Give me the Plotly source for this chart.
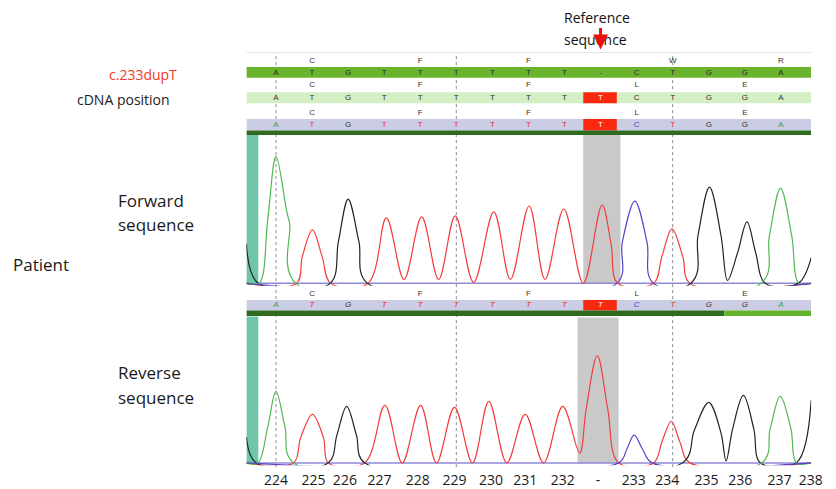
import plotly.graph_objects as go

W, H = 836, 489

# ---------------- data ----------------
ref_bases = ["A", "T", "G", "T", "T", "T", "T", "T", "T", "-", "C", "T", "G", "G", "A"]
ref_aa = ["", "C", "", "", "F", "", "", "F", "", "", "", "W", "", "", "R"]
pat_bases = ["A", "T", "G", "T", "T", "T", "T", "T", "T", "T", "C", "T", "G", "G", "A"]
pat_aa = ["", "C", "", "", "F", "", "", "F", "", "", "L", "", "", "E", ""]
mut_index = 9
dashed_at = [0, 5, 11]

cdna_labels = ["224", "225", "226", "227", "228", "229", "230", "231", "232", "-",
               "233", "234", "235", "236", "237", "238"]
cdna_tick_pos = [0, 1.04, 1.91, 2.87, 3.93, 4.95, 5.96, 6.91, 7.95, 8.93,
                 9.92, 10.85, 11.94, 12.87, 13.96, 14.83]

# forward chromatogram (key points: base index, signal)
fwd_A_x = [-0.82, -0.47, -0.23, 0.0, 0.30, 0.38, 0.55, 13.45, 13.68, 13.99, 14.30, 14.50, 14.84]
fwd_A_y = [1, 0, 64, 128, 72, 60, 0, 0, 48, 96, 48, 0, 0]
fwd_C_x = [-0.82, 9.45, 9.60, 9.95, 10.29, 10.47, 14.84]
fwd_C_y = [0, 0, 41, 83, 41, 0, 0]
fwd_G_x = [-0.82, -0.49, 1.5, 1.73, 2.0, 2.30, 2.54, 11.5, 11.70, 12.02, 12.34, 12.52,
           12.80, 13.06, 13.30, 13.57, 14.48, 14.84]
fwd_G_y = [40, 0, 0, 42, 85, 42, 0, 0, 48, 97, 48, 3, 31, 62, 31, 0, 0, 26]
fwd_T_x = [-0.82, 0.57, 0.73, 1.01, 1.28, 1.52, 2.55, 3.06, 3.55, 4.04, 4.51, 4.97, 5.48, 6.04,
           6.50, 7.02, 7.46, 7.98, 8.52, 9.04, 9.29, 9.48, 10.47, 10.70, 10.98, 11.28, 11.48, 14.84]
fwd_T_y = [0, 0, 27, 54, 27, 0, 0, 66, 4, 67, 4, 68, 1, 72, 4, 78, 4, 75, 0, 79, 40, 0, 0, 27,
           55, 27, 0, 0]

# reverse chromatogram
rev_A_x = [-0.82, -0.5, -0.23, 0.0, 0.25, 0.49, 13.47, 13.70, 13.98, 14.28, 14.43, 14.84]
rev_A_y = [0, 0, 36, 72, 36, 0, 0, 34, 67, 34, 0, 0]
rev_C_x = [-0.82, 9.5, 9.73, 9.93, 10.16, 10.43, 14.84]
rev_C_y = [0, 0, 14, 28, 14, 0, 0]
rev_G_x = [-0.82, -0.55, 1.45, 1.69, 1.96, 2.23, 2.46, 11.27, 11.6, 12.0, 12.34, 12.48,
           12.66, 12.96, 13.25, 13.43, 14.43, 14.84]
rev_G_y = [26, 0, 0, 28, 57, 28, 0, 0, 33, 61, 30, 2, 34, 68, 34, 0, 0, 63]
rev_T_x = [-0.82, 0.49, 0.68, 1.01, 1.32, 1.45, 2.46, 3.02, 3.50, 4.01, 4.45, 4.95, 5.45, 5.90,
           6.40, 6.91, 7.42, 7.95, 8.42, 8.60, 8.91, 9.20, 9.50, 10.47, 10.70, 10.96, 11.20,
           11.48, 14.84]
rev_T_y = [0, 0, 25, 49, 25, 0, 0, 58, 0, 58, 0, 56, 0, 62, 0, 49, 0, 57, 10, 54, 108, 54, 0,
           0, 21, 42, 21, 0, 0]

# ---------------- style ----------------
trace_col = {"A": "#4fb84f", "C": "#5444c8", "G": "#222222", "T": "#f43c3c"}
letter_col = {"A": "#3c9f3c", "C": "#4b3fc0", "G": "#333333", "T": "#e8322e", "-": "#333333"}
X0, X1 = -0.82, 14.84
FONT = "Open Sans"
SEQ_FONT = "Liberation Sans"


def pyp(p):
    """picture pixel row -> paper y"""
    return 1 - p / H


def pxp(p):
    """picture pixel column -> paper x"""
    return p / W


fig = go.Figure()

# chromatogram traces
for xs, ys, b in [(fwd_T_x, fwd_T_y, "T"), (fwd_G_x, fwd_G_y, "G"),
                  (fwd_A_x, fwd_A_y, "A"), (fwd_C_x, fwd_C_y, "C")]:
    fig.add_trace(go.Scatter(x=xs, y=ys, mode="lines",
                             line=dict(color=trace_col[b], width=1.2, shape="spline", smoothing=1.0),
                             xaxis="x", yaxis="y", showlegend=False, hoverinfo="skip"))
for xs, ys, b in [(rev_T_x, rev_T_y, "T"), (rev_G_x, rev_G_y, "G"),
                  (rev_A_x, rev_A_y, "A"), (rev_C_x, rev_C_y, "C")]:
    fig.add_trace(go.Scatter(x=xs, y=ys, mode="lines",
                             line=dict(color=trace_col[b], width=1.2, shape="spline", smoothing=1.0),
                             xaxis="x", yaxis="y2", showlegend=False, hoverinfo="skip"))

idx = list(range(len(ref_bases)))


def text_row(texts, ypix, colors, italic=False):
    fig.add_trace(go.Scatter(
        x=idx, y=[ypix] * len(idx), text=texts, mode="text", cliponaxis=False,
        textfont=dict(family=SEQ_FONT, size=8, color=colors, style="italic" if italic else "normal"),
        xaxis="x", yaxis="y3", showlegend=False, hoverinfo="skip"))


# header rows
text_row(ref_aa, 61, "#333333")
text_row(ref_bases, 73.5, "#2a2a2a")
text_row(pat_aa, 86, "#333333")
text_row(pat_bases, 99, ["#ffffff" if i == mut_index else "#333333" for i in idx])
text_row(pat_aa, 113.5, "#333333")
text_row(pat_bases, 126, ["#ffffff" if i == mut_index else letter_col[b] for i, b in enumerate(pat_bases)])
# reverse header
text_row(pat_aa, 296, "#333333")
text_row(pat_bases, 308, ["#ffffff" if i == mut_index else letter_col[b] for i, b in enumerate(pat_bases)],
         italic=True)

shapes = []


def rect(x0, x1, y0, y1, color):
    shapes.append(dict(type="rect", xref="x", yref="paper", x0=x0, x1=x1, y0=pyp(y1), y1=pyp(y0),
                       fillcolor=color, line=dict(width=0), layer="below"))


for d in dashed_at:
    shapes.append(dict(type="line", xref="x", yref="paper", x0=d, x1=d, y0=pyp(471), y1=pyp(53),
                       line=dict(color="#8a8a8a", width=1, dash="dot"), layer="below"))
shapes.append(dict(type="line", xref="x", yref="paper", x0=X0, x1=X1, y0=pyp(53), y1=pyp(53),
                   line=dict(color="#e2e2e2", width=1), layer="below"))

m0, m1 = mut_index - 0.48, mut_index + 0.45
rect(X0, X1, 67.5, 78.5, "#69b42c")
rect(X0, X1, 93, 104, "#d3efc3")
rect(m0, m1, 93, 104, "#f8290f")
rect(X0, X1, 120, 131.5, "#cbcde4")
rect(m0, m1, 120, 131.5, "#f8290f")
rect(X0, X1, 131.5, 136, "#2e6a1f")
rect(X0, -0.49, 136, 287, "#6fc6a6")
rect(mut_index - 0.48, mut_index + 0.55, 136, 286, "#c9c9c9")
# reverse track
rect(X0, X1, 302.5, 313, "#cbcde4")
rect(m0, m1, 302.5, 313, "#f8290f")
rect(X0, 12.43, 313, 318.5, "#2e6a1f")
rect(12.43, X1, 313, 318.5, "#63b22c")
rect(X0, -0.49, 319, 468, "#6fc6a6")
rect(mut_index - 0.64, mut_index + 0.5, 320, 467, "#c9c9c9")
# baselines
for yb in (285.7, 466.7):
    shapes.append(dict(type="line", xref="x", yref="paper", x0=-0.49, x1=X1, y0=pyp(yb), y1=pyp(yb),
                       line=dict(color="#8f8ad8", width=1.5), layer="below"))

annotations = []


def label(text, xl, yc, size, color="#1a1a1a"):
    annotations.append(dict(text=text, x=pxp(xl), y=pyp(yc), xref="paper", yref="paper", xanchor="left",
                            yanchor="middle", showarrow=False, font=dict(family=FONT, size=size, color=color)))


label("c.233dupT", 109, 75, 14, "#f5382a")
label("cDNA position", 76, 100, 14, "#222222")
label("Forward", 118, 202, 17)
label("sequence", 118, 226, 17)
label("Patient", 11, 267, 17)
label("Reverse", 118, 376, 17)
label("sequence", 118, 401, 17)
label("Reference", 570, 18, 14, "#111111")
label("sequence", 570, 40, 14, "#111111")
annotations.append(dict(text="", x=mut_index, y=pyp(50), xref="x", yref="paper", showarrow=True,
                        ax=0, ay=-23, arrowhead=2, arrowsize=1, arrowwidth=3, arrowcolor="#e8140c"))

fig.update_layout(
    width=W, height=H, margin=dict(l=0, r=0, t=0, b=0),
    paper_bgcolor="white", plot_bgcolor="rgba(0,0,0,0)",
    showlegend=False,
    xaxis=dict(domain=[pxp(250), pxp(823)], range=[X0, X1], anchor="y2", showgrid=False, zeroline=False,
               showline=False, ticks="", tickvals=cdna_tick_pos, ticktext=cdna_labels, ticklabelstandoff=5,
               tickfont=dict(family=FONT, size=14, color="#1a1a1a")),
    yaxis=dict(domain=[pyp(288), pyp(136)], range=[-2.3, 149.7], visible=False),
    yaxis2=dict(domain=[pyp(469), pyp(319)], range=[-2.3, 147.7], visible=False),
    yaxis3=dict(domain=[0, 1], range=[H, 0], visible=False, anchor="x"),
    shapes=shapes, annotations=annotations,
)

# page without the default 8px margin / scrollbars; if the window's inner size differs
# from 836x489 the figure is stretched to fill it (all positions are paper-relative)
page_fix = (
    "var s=document.documentElement.style, b=document.body.style;"
    "s.margin=s.padding=b.margin=b.padding='0px';s.overflow=b.overflow='hidden';"
    "var gd=document.getElementById('{plot_id}');"
    "var w=document.documentElement.clientWidth||window.innerWidth;"
    "var h=document.documentElement.clientHeight||window.innerHeight;"
    "if(w>0&&h>0&&(Math.abs(w-%d)>1||Math.abs(h-%d)>1)){Plotly.relayout(gd,{width:w,height:h});}" % (W, H)
)
fig.write_html("out.html", config={"displayModeBar": False}, post_script=page_fix)
